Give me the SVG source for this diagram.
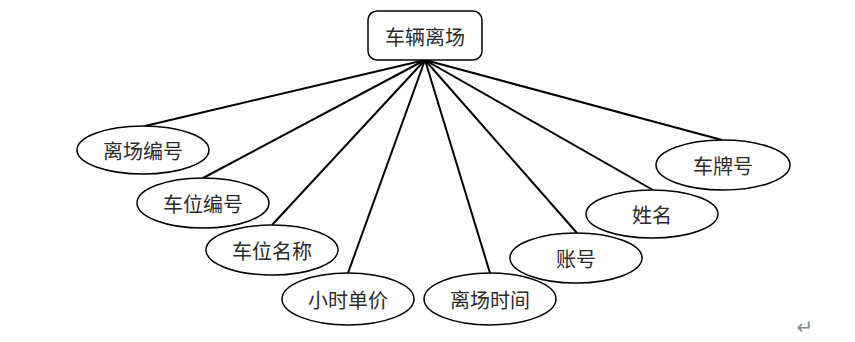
<svg xmlns="http://www.w3.org/2000/svg" width="855" height="342" viewBox="0 0 855 342">
<style>
.n{fill:#fff;stroke:#000;stroke-width:1.5}
.t{font-family:"Noto Sans CJK SC","Noto Sans",sans-serif;font-size:20px;fill:#2a2a2a;text-anchor:middle;dominant-baseline:central}
.c line{stroke:#000;stroke-width:2}
</style>
<rect width="855" height="342" fill="#fff"/>
<g class="c" id="connectors">
<line x1="425" y1="60" x2="145" y2="126"/>
<line x1="425" y1="60" x2="203" y2="178"/>
<line x1="425" y1="60" x2="272" y2="225"/>
<line x1="425" y1="60" x2="348" y2="273"/>
<line x1="425" y1="60" x2="490" y2="273"/>
<line x1="425" y1="60" x2="577" y2="233"/>
<line x1="425" y1="60" x2="653" y2="190"/>
<line x1="425" y1="60" x2="722" y2="140"/>
</g>
<g id="root"><rect class="n" x="368" y="11" width="114" height="49" rx="9"/><text class="t" x="425" y="36">车辆离场</text></g>
<g id="n1"><ellipse class="n" cx="143" cy="150" rx="66" ry="24"/><text class="t" x="143" y="150">离场编号</text></g>
<g id="n2"><ellipse class="n" cx="203" cy="203" rx="66" ry="25"/><text class="t" x="203" y="203">车位编号</text></g>
<g id="n3"><ellipse class="n" cx="272" cy="250" rx="66" ry="25"/><text class="t" x="272" y="250">车位名称</text></g>
<g id="n4"><ellipse class="n" cx="348" cy="299" rx="66" ry="26"/><text class="t" x="348" y="299">小时单价</text></g>
<g id="n5"><ellipse class="n" cx="490" cy="299" rx="66" ry="26"/><text class="t" x="490" y="299">离场时间</text></g>
<g id="n6"><ellipse class="n" cx="576" cy="258" rx="66" ry="25"/><text class="t" x="576" y="258">账号</text></g>
<g id="n7"><ellipse class="n" cx="652" cy="214" rx="66" ry="24"/><text class="t" x="652" y="214">姓名</text></g>
<g id="n8"><ellipse class="n" cx="723" cy="165" rx="67" ry="25"/><text class="t" x="723" y="165">车牌号</text></g>
<text x="805" y="327" font-family="DejaVu Sans,sans-serif" font-size="20" fill="#888" text-anchor="middle" dominant-baseline="central">↵</text>
</svg>
